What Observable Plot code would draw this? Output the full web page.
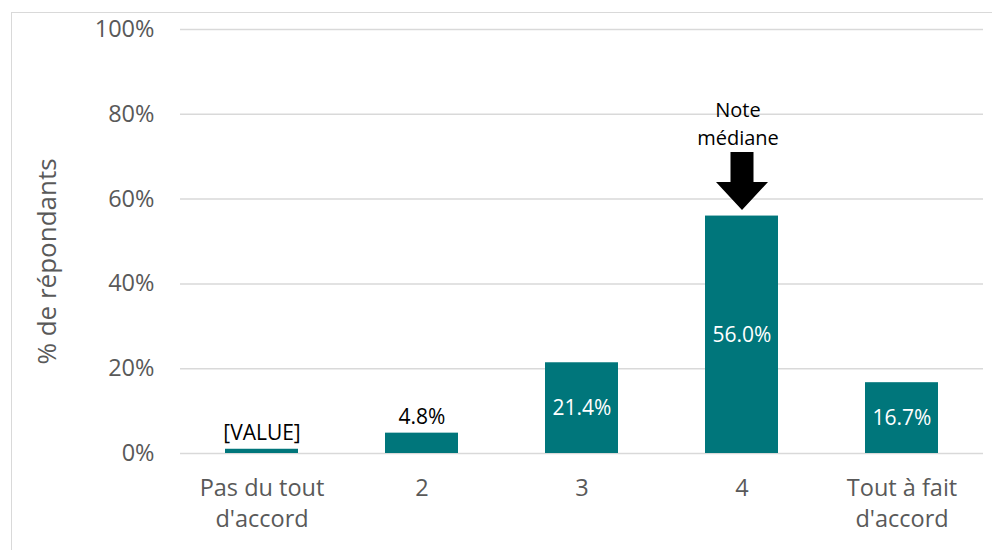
<!DOCTYPE html>
<html>
<head>
<meta charset="utf-8">
<script src="https://cdn.jsdelivr.net/npm/d3@7"></script>
<script src="https://cdn.jsdelivr.net/npm/@observablehq/plot@0.6"></script>
<style>
  html, body { margin: 0; padding: 0; background: #fff; }
  #wrap { position: relative; width: 992px; height: 550px; overflow: hidden; font-family: "Open Sans", sans-serif; }
  #frame { position: absolute; left: 11px; top: 12px; width: 1000px; height: 600px; border-left: 1.5px solid #d9d9d9; border-top: 1.5px solid #d9d9d9; box-sizing: border-box; }
  #chart { position: absolute; left: 0; top: 0; }
</style>
</head>
<body>
<div id="wrap"><div id="frame"></div><div id="chart"></div></div>
<script>
// Data
const categories = ["Pas du tout\nd'accord", "2", "3", "4", "Tout à fait\nd'accord"];
const values = [1.0, 4.8, 21.4, 56.0, 16.7];
const valueLabels = ["[VALUE]", "4.8%", "21.4%", "56.0%", "16.7%"];
const yTicks = [0, 20, 40, 60, 80, 100];
const yTickLabels = ["0%", "20%", "40%", "60%", "80%", "100%"];
const yTitle = "% de répondants";
const medianCategory = "4";
const medianNote = "Note\nmédiane";

const rows = categories.map((c, i) => ({cat: c, value: values[i], label: valueLabels[i]}));
const inside = rows.filter(d => d.value >= 10);
const outside = rows.filter(d => d.value < 10);
const medianRow = rows.filter(d => d.cat === medianCategory);

const teal = "#00767B";
const gray = "#595959";

// block-arrow symbol, tip at origin pointing down
const blockArrow = {
  draw(ctx, size) {
    const r = Math.sqrt(size / Math.PI);
    const k = r / 29;
    ctx.moveTo(0, 0);
    ctx.lineTo(-26 * k, -28 * k);
    ctx.lineTo(-11.5 * k, -28 * k);
    ctx.lineTo(-11.5 * k, -58 * k);
    ctx.lineTo(11.5 * k, -58 * k);
    ctx.lineTo(11.5 * k, -28 * k);
    ctx.lineTo(26 * k, -28 * k);
    ctx.closePath();
  }
};

const chart = Plot.plot({
  width: 992,
  height: 550,
  marginLeft: 180,
  marginRight: 9,
  marginTop: 29,
  marginBottom: 97,
  style: {fontFamily: "Open Sans, sans-serif", background: "transparent"},
  x: {domain: categories, paddingInner: 0.545, paddingOuter: 0.2725},
  y: {domain: [0, 100]},
  marks: [
    Plot.ruleY(yTicks, {stroke: "#d9d9d9", strokeWidth: 1.5}),
    Plot.barY(rows, {x: "cat", y: "value", fill: teal}),
    Plot.axisY({ticks: yTicks, tickFormat: (d) => yTickLabels[yTicks.indexOf(d)], tickSize: 0, tickPadding: 26, fontSize: 23.5, color: gray, label: null}),
    Plot.axisX({tickSize: 0, tickPadding: 21, fontSize: 23.5, color: gray, lineHeight: 1.3, label: null}),
    Plot.text([yTitle], {frameAnchor: "left", textAnchor: "middle", rotate: -90, dx: -133, dy: 20, fontSize: 26, fill: gray}),
    Plot.text(inside, {x: "cat", y: (d) => d.value / 2, text: "label", fill: "white", fontSize: 21}),
    Plot.text(outside, {x: "cat", y: "value", text: "label", fill: "black", fontSize: 21, lineAnchor: "bottom", dy: -9}),
    Plot.dot(medianRow, {x: "cat", y: "value", symbol: blockArrow, r: 29, fill: "black", stroke: null, dy: -6}),
    Plot.text(medianRow, {x: "cat", y: "value", text: () => medianNote, fill: "black", fontSize: 20, lineHeight: 1.4, dx: -4, dy: -94})
  ]
});
document.getElementById("chart").appendChild(chart);
</script>
</body>
</html>
